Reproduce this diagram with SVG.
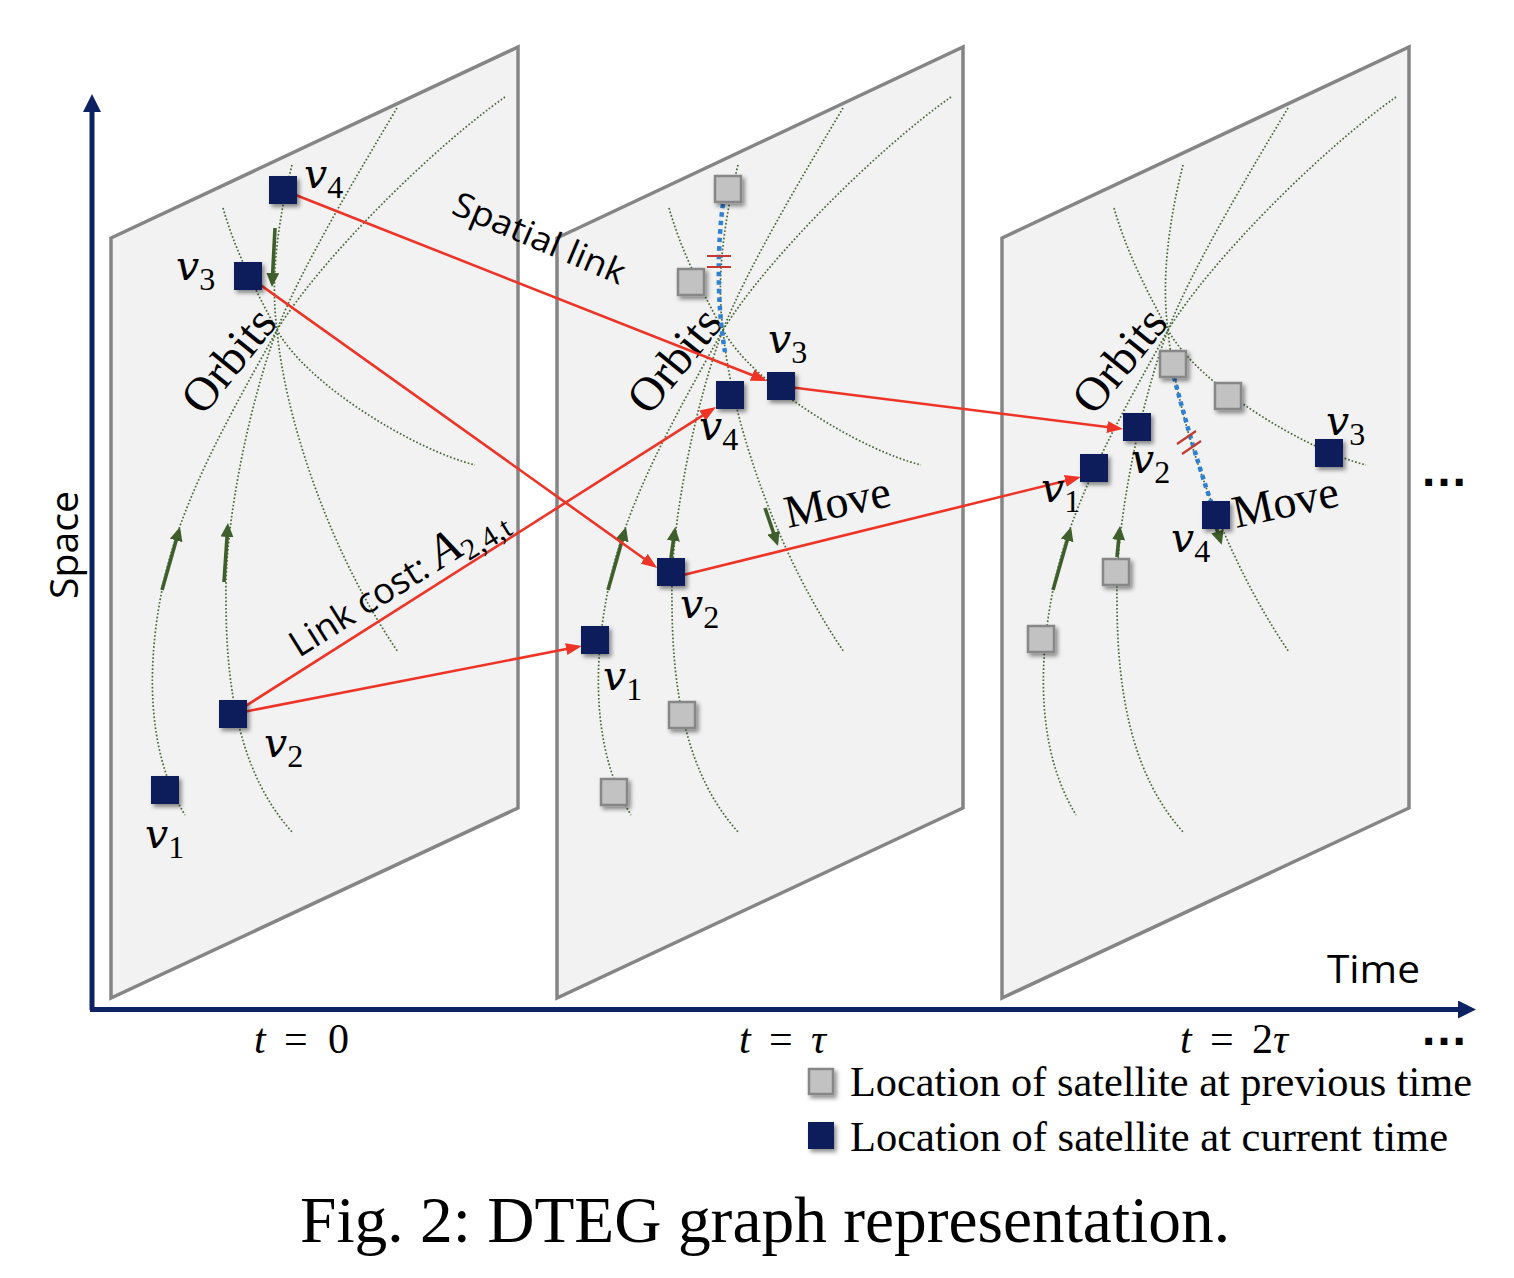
<svg xmlns="http://www.w3.org/2000/svg" width="1514" height="1278" viewBox="0 0 1514 1278">
<style>
.panel{fill:#f2f2f2;stroke:#858585;stroke-width:3.5;stroke-linejoin:miter}
.orb{fill:none;stroke:#4a6a37;stroke-width:1.7;stroke-dasharray:1.7 2}
.cur{fill:#0a1f5a}
.prev{fill:#c2c2c2;stroke:#878787;stroke-width:2.5}
.red{fill:none;stroke:#ee3427;stroke-width:2.6;marker-end:url(#ra)}
.grn{fill:none;stroke:#3e5f2c;stroke-width:3.6;marker-end:url(#ga)}
.blue{fill:none;stroke:#2f80d3;stroke-width:4.5;stroke-dasharray:4.5 4}
.tick{stroke:#c23a30;stroke-width:2.2}
.axis{fill:none;stroke:#0c2262;stroke-width:5}
.v{font-family:"DejaVu Serif","Liberation Serif",serif;font-style:italic;font-size:41px;fill:#000}
.s{font-family:"Liberation Serif",serif;font-style:normal;font-size:32px}
.ser{font-family:"Liberation Serif",serif;fill:#000}
.sans{font-family:"Open Sans","DejaVu Sans",sans-serif;fill:#000}
</style>
<defs>
<filter id="sh" x="-40%" y="-40%" width="180%" height="180%"><feDropShadow dx="2.5" dy="3" stdDeviation="2" flood-color="#000" flood-opacity="0.45"/></filter>
<marker id="ra" viewBox="0 0 16 12" markerWidth="16" markerHeight="12" refX="12" refY="6" orient="auto" markerUnits="userSpaceOnUse"><path d="M0,0 L16,6 L0,12 z" fill="#ee3427"/></marker>
<marker id="ga" viewBox="0 0 14 13" markerWidth="14" markerHeight="13" refX="10" refY="6.5" orient="auto" markerUnits="userSpaceOnUse"><path d="M0,0 L14,6.5 L0,13 z" fill="#3e5f2c"/></marker>
<marker id="aa" viewBox="0 0 18 18" markerWidth="18" markerHeight="18" refX="12" refY="9" orient="auto" markerUnits="userSpaceOnUse"><path d="M0,0 L18,9 L0,18 z" fill="#0c2262"/></marker>
<g id="orbits">
<path class="orb" d="M505,97 C430,150 320,260 277,330 C229,417 179,503 162,590 C147,665 146,751 185,815"/>
<path class="orb" d="M397,108 C360,170 300,270 277,330 C252,395 224,520 226,600 C226,690 240,775 293,833"/>
<path class="orb" d="M292,165 C278,220 270,280 277,330 C284,410 325,545 398,652"/>
<path class="orb" d="M223,208 C235,250 255,290 277,330 C307,385 415,450 475,465"/>
</g>
</defs>
<rect width="1514" height="1278" fill="#fff"/>

<g id="axes">
<path class="axis" d="M92,1010 L92,100" marker-end="url(#aa)"/>
<path class="axis" d="M90,1009.5 L1470,1009.5" marker-end="url(#aa)"/>
<text class="sans" font-size="38" text-anchor="middle" textLength="108" lengthAdjust="spacingAndGlyphs" transform="translate(78,545) rotate(-90)">Space</text>
<text class="sans" x="1327" y="983" font-size="38" textLength="93" lengthAdjust="spacingAndGlyphs">Time</text>
</g>

<g id="panel1"><polygon class="panel" points="111,238 518,47 518,808 111,998"/></g>
<g id="panel2"><polygon class="panel" points="557,238 963,47 963,808 557,998"/></g>
<g id="panel3"><polygon class="panel" points="1002,238 1409,47 1409,808 1002,998"/></g>

<g id="orbit-lines">
<use href="#orbits"/>
<use href="#orbits" transform="translate(446,0)"/>
<use href="#orbits" transform="translate(891,0)"/>
</g>

<g id="orbit-labels">
<text class="ser" font-size="48" transform="translate(203,417) rotate(-51)">Orbits</text>
<text class="ser" font-size="48" transform="translate(649,417) rotate(-51)">Orbits</text>
<text class="ser" font-size="48" transform="translate(1094,417) rotate(-51)">Orbits</text>
</g>

<g id="connectors">
<path class="grn" d="M275,228 L272.2,283"/>
<path class="grn" d="M162,590 L178.9,530.8"/>
<path class="grn" d="M224,582 L227.7,527"/>
<path class="grn" d="M608,590 L624.9,530.8"/>
<path class="grn" d="M671,558 L674.7,531"/>
<path class="grn" d="M765,508 L776.7,542.2"/>
<path class="grn" d="M1053,590 L1069.9,530.8"/>
<path class="grn" d="M1117,557 L1119.6,530"/>
<path class="grn" d="M1216,527 L1220.5,541"/>
<path class="blue" d="M723,204 C718,240 716,300 725,352"/>
<path class="blue" d="M1174,377 C1185,420 1200,470 1211,502"/>
<path class="tick" d="M707,256 L731,256 M707,267 L731,267"/>
<path class="tick" d="M1177,444 L1196,431 M1182,454 L1201,441"/>
<path class="red" d="M283,190 L763.3,379.5"/>
<path class="red" d="M248,276 L654,565.7"/>
<path class="red" d="M233,714 L712.6,409.2"/>
<path class="red" d="M233,714 L578,646.8"/>
<path class="red" d="M781,386 L1119,428.5"/>
<path class="red" d="M671,578 L1077,478"/>
</g>

<g id="n-t0-v1"><rect class="cur" filter="url(#sh)" x="151" y="776" width="28" height="28"/><text class="v" x="145" y="848">v<tspan class="s" dx="0" dy="10">1</tspan></text></g>
<g id="n-t0-v2"><rect class="cur" filter="url(#sh)" x="219" y="700" width="28" height="28"/><text class="v" x="264" y="757">v<tspan class="s" dx="0" dy="10">2</tspan></text></g>
<g id="n-t0-v3"><rect class="cur" filter="url(#sh)" x="234" y="262" width="28" height="28"/><text class="v" x="176" y="280">v<tspan class="s" dx="0" dy="10">3</tspan></text></g>
<g id="n-t0-v4"><rect class="cur" filter="url(#sh)" x="269" y="176" width="28" height="28"/><text class="v" x="304" y="188">v<tspan class="s" dx="0" dy="10">4</tspan></text></g>

<g id="n-t1-p1"><rect class="prev" filter="url(#sh)" x="715" y="176" width="26" height="26"/></g>
<g id="n-t1-p2"><rect class="prev" filter="url(#sh)" x="678" y="269" width="26" height="26"/></g>
<g id="n-t1-p3"><rect class="prev" filter="url(#sh)" x="669" y="702" width="26" height="26"/></g>
<g id="n-t1-p4"><rect class="prev" filter="url(#sh)" x="601" y="779" width="26" height="26"/></g>
<g id="n-t1-v1"><rect class="cur" filter="url(#sh)" x="581" y="626" width="28" height="28"/><text class="v" x="603" y="690">v<tspan class="s" dx="0" dy="10">1</tspan></text></g>
<g id="n-t1-v2"><rect class="cur" filter="url(#sh)" x="657" y="558" width="28" height="28"/><text class="v" x="680" y="618">v<tspan class="s" dx="0" dy="10">2</tspan></text></g>
<g id="n-t1-v3"><rect class="cur" filter="url(#sh)" x="767" y="372" width="28" height="28"/><text class="v" x="768" y="353">v<tspan class="s" dx="0" dy="10">3</tspan></text></g>
<g id="n-t1-v4"><rect class="cur" filter="url(#sh)" x="716" y="381" width="28" height="28"/><text class="v" x="699" y="440">v<tspan class="s" dx="0" dy="10">4</tspan></text></g>

<g id="n-t2-p1"><rect class="prev" filter="url(#sh)" x="1160" y="351" width="26" height="26"/></g>
<g id="n-t2-p2"><rect class="prev" filter="url(#sh)" x="1215" y="383" width="26" height="26"/></g>
<g id="n-t2-p3"><rect class="prev" filter="url(#sh)" x="1103" y="559" width="26" height="26"/></g>
<g id="n-t2-p4"><rect class="prev" filter="url(#sh)" x="1028" y="626" width="26" height="26"/></g>
<g id="n-t2-v1"><rect class="cur" filter="url(#sh)" x="1080" y="454" width="28" height="28"/><text class="v" x="1041" y="502">v<tspan class="s" dx="0" dy="10">1</tspan></text></g>
<g id="n-t2-v2"><rect class="cur" filter="url(#sh)" x="1123" y="413" width="28" height="28"/><text class="v" x="1131" y="473">v<tspan class="s" dx="0" dy="10">2</tspan></text></g>
<g id="n-t2-v3"><rect class="cur" filter="url(#sh)" x="1315" y="439" width="28" height="28"/><text class="v" x="1326" y="435">v<tspan class="s" dx="0" dy="10">3</tspan></text></g>
<g id="n-t2-v4"><rect class="cur" filter="url(#sh)" x="1202" y="501" width="28" height="28"/><text class="v" x="1171" y="552">v<tspan class="s" dx="0" dy="10">4</tspan></text></g>

<g id="link-labels">
<text class="sans" font-size="34" textLength="184" lengthAdjust="spacingAndGlyphs" transform="translate(450,213) rotate(23)">Spatial link</text>
<text transform="translate(299,658) rotate(-32)"><tspan class="sans" font-size="36">Link cost: </tspan><tspan class="ser" font-style="italic" font-size="48">A</tspan><tspan class="ser" font-size="30" dy="8">2,4,t</tspan></text>
<text class="ser" font-size="46" transform="translate(788,528) rotate(-12)">Move</text>
<text class="ser" font-size="46" transform="translate(1236,528) rotate(-12)">Move</text>
</g>

<g id="time-labels" class="ser" font-size="42">
<text y="1053"><tspan x="254" font-style="italic">t</tspan><tspan x="284">=</tspan><tspan x="328">0</tspan></text>
<text y="1053"><tspan x="739" font-style="italic">t</tspan><tspan x="769">=</tspan><tspan x="811" font-style="italic">τ</tspan></text>
<text y="1053"><tspan x="1180" font-style="italic">t</tspan><tspan x="1210">=</tspan><tspan x="1252">2</tspan><tspan x="1273" font-style="italic">τ</tspan></text>
<text x="1420" y="1045" font-family="Liberation Sans,sans-serif" font-weight="bold" font-size="48">…</text>
<text x="1420" y="486" font-family="Liberation Sans,sans-serif" font-weight="bold" font-size="48">…</text>
</g>

<g id="legend">
<rect class="prev" filter="url(#sh)" x="809" y="1069" width="24" height="25"/>
<text class="ser" x="850" y="1096" font-size="42" textLength="622" lengthAdjust="spacingAndGlyphs">Location of satellite at previous time</text>
<rect class="cur" filter="url(#sh)" x="808" y="1122" width="26" height="27"/>
<text class="ser" x="850" y="1151" font-size="42" textLength="598" lengthAdjust="spacingAndGlyphs">Location of satellite at current time</text>
</g>

<text class="ser" x="300" y="1242" font-size="65" textLength="930" lengthAdjust="spacingAndGlyphs">Fig. 2: DTEG graph representation.</text>
</svg>
